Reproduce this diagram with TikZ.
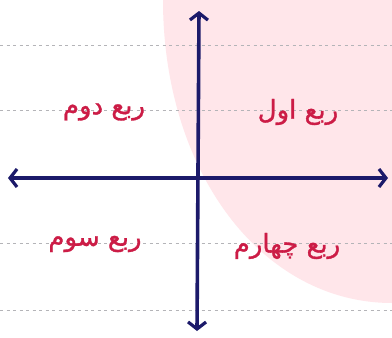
\documentclass[tikz,border=0pt]{standalone}
\usepackage{fontspec}
\newfontfamily\arabicfont[Script=Arabic,FakeBold=1.2]{DejaVu Sans}
\TeXXeTstate=1
\usetikzlibrary{arrows.meta}
\definecolor{pinkbg}{HTML}{FFE6EA}
\definecolor{axisblue}{HTML}{1C1A6A}
\definecolor{labelred}{HTML}{CC1C46}
\definecolor{ruleline}{HTML}{B4B4B8}
\tikzset{
  axis/.style={line width=3.6pt, color=axisblue, {Straight Barb[length=7pt,width=18pt,line width=3.2pt]}-{Straight Barb[length=7pt,width=18pt,line width=3.2pt]}},
  ruled/.style={ruleline, line width=0.9pt, dash pattern=on 3pt off 3.5pt},
  quad/.style={text=labelred, font=\arabicfont\fontsize{26}{30}\selectfont, inner sep=1pt}
}
\begin{document}
\begin{tikzpicture}[x=1pt,y=-1pt]
\useasboundingbox (0,0) rectangle (392,338);
\fill[white] (0,0) rectangle (392,338);
% pink region
\fill[pinkbg] (163,0) .. controls (163,172) and (262,303) .. (392,303) -- (392,0) -- cycle;
% ruled lines
\foreach \yy in {45,110,243,310} {
  \draw[ruled] (0,\yy) -- (392,\yy);
}
% axes
\coordinate (left) at (8,178);
\coordinate (right) at (388,178);
\coordinate (top) at (199,11);
\coordinate (bottom) at (197,331);
\draw[axis] (left) -- (right);
\draw[axis] (bottom) -- (top);
% labels
\node[quad] (q1) at (298,112) {\beginR ربع اول\endR};
\node[quad] (q2) at (104,112) {\beginR ربع دوم\endR};
\node[quad] (q3) at (95,244) {\beginR ربع سوم\endR};
\node[quad] (q4) at (287,246) {\beginR ربع چهارم\endR};
\end{tikzpicture}
\end{document}
